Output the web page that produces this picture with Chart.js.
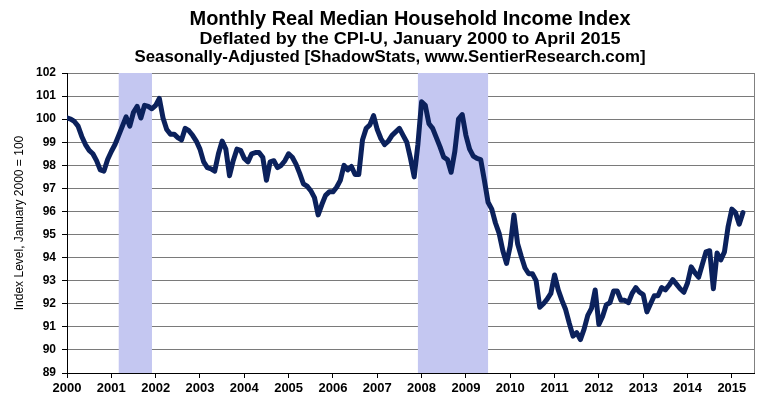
<!DOCTYPE html>
<html><head><meta charset="utf-8">
<script src="https://cdn.jsdelivr.net/npm/chart.js@4"></script>
<style>html,body{margin:0;padding:0;background:#fff}#wrap{width:781px;height:412px}</style>
</head><body><div id="wrap"><canvas id="c" width="781" height="412"></canvas></div>
<script>
const years = [2000,2001,2002,2003,2004,2005,2006,2007,2008,2009,2010,2011,2012,2013,2014,2015];
const v2000 = [100.05,100.0,99.9,99.7,99.25,98.9,98.65,98.5,98.2,97.8,97.75,98.25];
const v2001 = [98.6,98.9,99.3,99.7,100.1,99.7,100.3,100.55,100.05,100.6,100.55,100.45];
const v2002 = [100.6,100.9,100.05,99.55,99.35,99.35,99.2,99.1,99.6,99.5,99.3,99.05];
const v2003 = [98.7,98.15,97.9,97.85,97.75,98.5,99.05,98.7,97.55,98.2,98.7,98.65];
const v2004 = [98.3,98.15,98.5,98.55,98.55,98.35,97.35,98.15,98.2,97.9,98.0,98.2];
const v2005 = [98.5,98.35,98.05,97.65,97.2,97.1,96.9,96.6,95.85,96.3,96.7,96.85];
const v2006 = [96.85,97.05,97.35,98.0,97.8,97.95,97.6,97.6,99.1,99.6,99.75,100.15];
const v2007 = [99.55,99.15,98.9,99.05,99.3,99.45,99.6,99.3,99.0,98.3,97.5,98.9];
const v2008 = [100.75,100.6,99.8,99.6,99.2,98.8,98.35,98.25,97.7,98.6,100.0,100.2];
const v2009 = [99.3,98.7,98.4,98.3,98.25,97.35,96.4,96.1,95.5,95.05,94.3,93.75];
const v2010 = [94.5,95.85,94.6,94.05,93.55,93.3,93.3,93.0,91.85,92.0,92.2,92.45];
const v2011 = [93.25,92.6,92.15,91.75,91.15,90.6,90.75,90.45,90.9,91.5,91.8,92.6];
const v2012 = [91.1,91.45,91.95,92.05,92.55,92.55,92.15,92.15,92.05,92.45,92.7,92.5];
const v2013 = [92.4,91.65,92.0,92.35,92.35,92.7,92.6,92.8,93.05,92.85,92.65,92.5];
const v2014 = [92.9,93.6,93.35,93.15,93.7,94.25,94.3,92.65,94.2,93.9,94.25,95.35];
const v2015 = [96.1,95.95,95.45,95.95];

const recessionStarts = [2001.167, 2007.917];
const recessionEnds = [2001.917, 2009.5];

const titleLines = [
  "Monthly Real Median Household Income Index",
  "Deflated by the CPI-U, January 2000 to April 2015",
  "Seasonally-Adjusted [ShadowStats, www.SentierResearch.com]"
];
const yAxisTitle = "Index Level, January 2000 = 100";

const seriesByYear = [v2000,v2001,v2002,v2003,v2004,v2005,v2006,v2007,v2008,v2009,v2010,v2011,v2012,v2013,v2014,v2015];
const points = [];
seriesByYear.forEach((arr, k) => arr.forEach((v, m) => points.push({x: years[k] + m / 12, y: v})));

const SANS = '"Liberation Sans", Arial, sans-serif';

const titlePlugin = {
  id: 'titles',
  afterDraw(chart) {
    const ctx = chart.ctx;
    const specs = [
      {size: 21, cx: 410, base: 25, w: 441},
      {size: 16, cx: 410, base: 44, w: 421},
      {size: 16, cx: 390, base: 62, w: 511}
    ];
    ctx.save();
    ctx.fillStyle = '#000';
    ctx.textBaseline = 'alphabetic';
    ctx.textAlign = 'center';
    specs.forEach((s, i) => {
      ctx.font = 'bold ' + s.size + 'px ' + SANS;
      const mw = ctx.measureText(titleLines[i]).width;
      const k = s.w / mw;
      ctx.save();
      ctx.translate(s.cx, s.base);
      ctx.scale(k, 1);
      ctx.fillText(titleLines[i], 0, 0);
      ctx.restore();
    });
    ctx.restore();
  }
};

const shadePlugin = {
  id: 'shade',
  beforeDatasetsDraw(chart) {
    const {ctx, chartArea, scales} = chart;
    ctx.save();
    ctx.fillStyle = '#c4c7f1';
    recessionStarts.forEach((s, i) => {
      const x1 = scales.x.getPixelForValue(s);
      const x2 = scales.x.getPixelForValue(recessionEnds[i]);
      ctx.fillRect(x1, chartArea.top, x2 - x1, chartArea.bottom - chartArea.top);
    });
    ctx.restore();
  },
  afterDraw(chart) {
    const {ctx, chartArea} = chart;
    ctx.save();
    ctx.strokeStyle = '#808080';
    ctx.lineWidth = 1;
    ctx.beginPath();
    ctx.moveTo(Math.round(chartArea.right) + 0.5, chartArea.top);
    ctx.lineTo(Math.round(chartArea.right) + 0.5, chartArea.bottom);
    ctx.stroke();
    ctx.restore();
  }
};

new Chart(document.getElementById('c'), {
  type: 'line',
  data: {
    datasets: [{
      data: points,
      borderColor: '#0b215c',
      borderWidth: 5,
      pointRadius: 0,
      tension: 0,
      borderJoinStyle: 'round',
      borderCapStyle: 'round'
    }]
  },
  options: {
    responsive: false,
    animation: false,
    events: [],
    layout: {padding: {top: 73, right: 27, left: 0, bottom: 0}},
    plugins: {legend: {display: false}, tooltip: {enabled: false}, title: {display: false}},
    scales: {
      x: {
        type: 'linear', min: 2000, max: 2015.5,
        afterFit(s) { s.height = 39; },
        border: {display: true, color: '#000', width: 1},
        grid: {drawOnChartArea: false, drawTicks: true, tickLength: 5, color: '#000'},
        ticks: {
          stepSize: 1, includeBounds: false, maxRotation: 0, autoSkip: false,
          color: '#000', padding: 3,
          font: {family: SANS, size: 13, weight: 'bold'},
          callback: v => Number.isInteger(v) ? String(v) : ''
        }
      },
      y: {
        min: 89, max: 102,
        afterFit(s) { s.width = 67; },
        border: {display: true, color: '#000', width: 1},
        grid: {color: '#7a7a7a', lineWidth: 1, tickLength: 5, tickColor: '#000'},
        ticks: {
          stepSize: 1, color: '#000', padding: 6,
          font: {family: SANS, size: 12, weight: 'bold'}
        },
        title: {
          display: true, text: yAxisTitle, color: '#000',
          font: {family: SANS, size: 12}, padding: {top: 12, bottom: 0}
        }
      }
    }
  },
  plugins: [shadePlugin, titlePlugin]
});
</script></body></html>
